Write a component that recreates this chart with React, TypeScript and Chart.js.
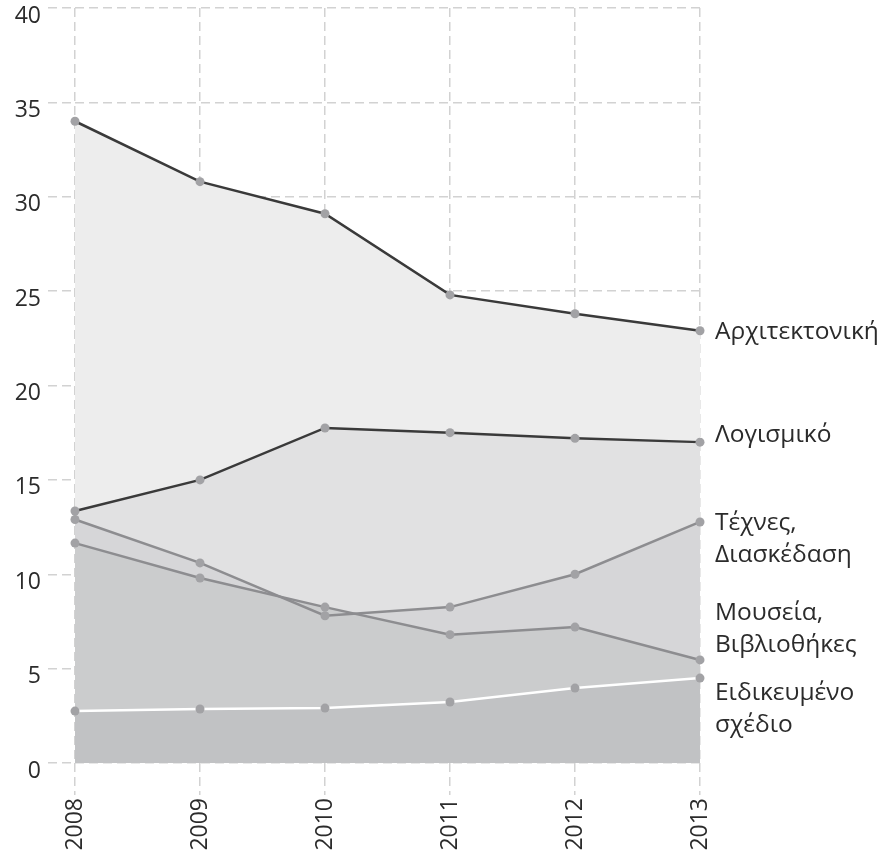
import { useEffect, useRef } from "react";
import { Chart, registerables } from "chart.js";
Chart.register(...registerables);

const years = ["2008", "2009", "2010", "2011", "2012", "2013"];
const architecture = [34.0, 30.8, 29.1, 24.8, 23.8, 22.9];
const software = [13.35, 15.0, 17.75, 17.5, 17.2, 17.0];
const arts = [12.9, 10.6, 7.8, 8.26, 10.0, 12.77];
const museums = [11.65, 9.8, 8.26, 6.8, 7.2, 5.46];
const design = [2.75, 2.86, 2.91, 3.23, 3.97, 4.5];
const yTicks = [0, 5, 10, 15, 20, 25, 30, 35, 40];

const seriesNames = ["Αρχιτεκτονική", "Λογισμικό", "Τέχνες, Διασκέδαση", "Μουσεία, Βιβλιοθήκες", "Ειδικευμένο σχέδιο"];
const labelLines = [["Αρχιτεκτονική"], ["Λογισμικό"], ["Τέχνες,", "Διασκέδαση"], ["Μουσεία,", "Βιβλιοθήκες"], ["Ειδικευμένο", "σχέδιο"]];
const labelAnchors = [22.83, 17.38, 12.72, 7.95, 3.71];

const FONT = "'Open Sans', 'Noto Sans', sans-serif";

const rightLabels = {
  id: "rightLabels",
  afterDraw(chart: any) {
    const ctx = chart.ctx;
    const yScale = chart.scales.y;
    const x = chart.chartArea.right + 15;
    ctx.save();
    ctx.font = `24.5px ${FONT}`;
    ctx.fillStyle = "#2b2b2b";
    ctx.textAlign = "left";
    ctx.textBaseline = "middle";
    labelLines.forEach((lines, i) => {
      const y0 = yScale.getPixelForValue(labelAnchors[i]);
      lines.forEach((t, j) => ctx.fillText(t, x, y0 + j * 32));
    });
    ctx.restore();
  },
};

export default function App() {
  const ref = useRef<HTMLCanvasElement>(null);
  useEffect(() => {
    const mk = (label: string, data: number[], line: string, fill: string, width: number) => ({
      label,
      data,
      borderColor: line,
      backgroundColor: fill,
      borderWidth: width,
      fill: "origin",
      tension: 0,
      pointRadius: 4.5,
      pointBackgroundColor: "#a2a2a5",
      pointBorderWidth: 0,
      clip: false as any,
    });
    const chart = new Chart(ref.current!, {
      type: "line",
      data: {
        labels: years,
        datasets: [
          mk(seriesNames[4], design, "#ffffff", "#c1c2c4", 2.5),
          mk(seriesNames[3], museums, "#8d8d90", "#cbcccd", 2.5),
          mk(seriesNames[2], arts, "#8d8d90", "#d6d6d8", 2.5),
          mk(seriesNames[1], software, "#3a3a3a", "#e1e1e2", 2.5),
          mk(seriesNames[0], architecture, "#3a3a3a", "#ededed", 2.5),
        ],
      },
      options: {
        animation: false,
        responsive: true,
        maintainAspectRatio: false,
        layout: { padding: { left: 0, right: 183, top: 8, bottom: 0 } },
        plugins: {
          legend: { display: false },
          tooltip: { enabled: false },
          filler: { drawTime: "beforeDatasetsDraw" } as any,
        },
        scales: {
          x: {
            offset: false,
            grid: {
              color: "#d2d2d2",
              lineWidth: 1.5,
              tickLength: 32,
              tickBorderDash: [9, 5],
              drawTicks: true,
            } as any,
            border: { display: false, dash: [9, 5] },
            ticks: {
              color: "#2b2b2b",
              font: { size: 23, family: FONT },
              minRotation: 90,
              maxRotation: 90,
              padding: 3,
            },
            afterFit(scale: any) {
              scale.height = 92;
              scale.paddingLeft = 0;
              scale.paddingRight = 0;
            },
          },
          y: {
            min: 0,
            max: 40,
            afterBuildTicks(scale: any) {
              scale.ticks = yTicks.map((v) => ({ value: v }));
            },
            grid: {
              color: "#d2d2d2",
              lineWidth: 1.5,
              tickLength: 27,
              tickBorderDash: [9, 5],
            } as any,
            border: { display: false, dash: [9, 5] },
            ticks: {
              color: "#2b2b2b",
              font: { size: 23, family: FONT },
              padding: 7,
              labelOffset: 8,
            } as any,
            afterFit(scale: any) {
              scale.width = 75;
              scale.paddingTop = 0;
              scale.paddingBottom = 0;
            },
          },
        },
      },
      plugins: [rightLabels],
    });
    return () => chart.destroy();
  }, []);
  return (
    <div style={{ position: "fixed", left: 0, top: 0, width: 883, height: 855, background: "#fff" }}>
      <canvas ref={ref} />
    </div>
  );
}
